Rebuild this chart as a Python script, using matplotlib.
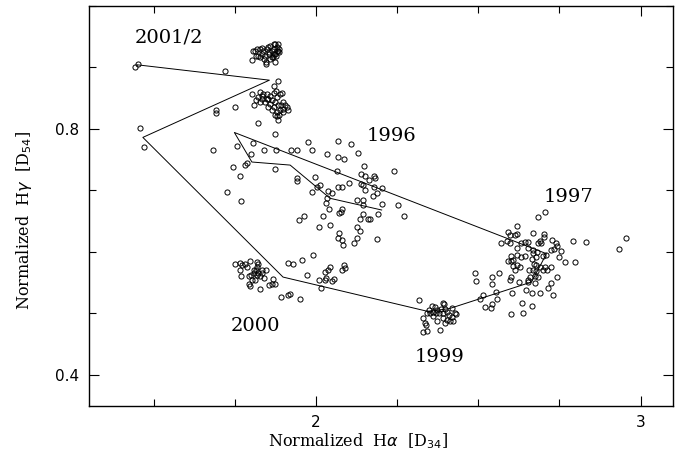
import matplotlib
matplotlib.use("Agg")
import matplotlib.pyplot as plt
from matplotlib.ticker import MultipleLocator

# 2001/2 season (upper + lower clumps and scattered points)
ha_2001 = [1.805, 1.802, 1.815, 1.818, 1.833, 1.846, 1.828, 1.843, 1.858, 1.874,
           1.884, 1.874, 1.879, 1.887, 1.864, 1.869, 1.854, 1.858, 1.867, 1.848,
           1.837, 1.812, 1.828, 1.822, 1.846, 1.869, 1.874, 1.884, 1.864, 1.880,
           1.871, 1.855, 1.877, 1.834, 1.886, 1.852, 1.840,
           1.884, 1.869, 1.877, 1.889, 1.871, 1.826, 1.837, 1.848, 1.858, 1.822,
           1.833, 1.848, 1.864, 1.828, 1.843, 1.858, 1.874, 1.869, 1.884, 1.899,
           1.910, 1.889, 1.899, 1.879, 1.874, 1.887, 1.899, 1.905, 1.853, 1.864,
           1.802, 1.807, 1.820, 1.879, 1.894, 1.879, 1.874, 1.815, 1.852, 1.892,
           1.914, 1.883, 1.834,
           1.443, 1.450, 1.720, 1.690, 1.690, 1.749, 1.458, 1.471]
hg_2001 = [0.927, 0.911, 0.919, 0.930, 0.932, 0.905, 0.916, 0.919, 0.935, 0.938,
           0.938, 0.908, 0.927, 0.930, 0.927, 0.922, 0.922, 0.913, 0.916, 0.930,
           0.927, 0.927, 0.930, 0.919, 0.908, 0.937, 0.922, 0.927, 0.916, 0.933,
           0.930, 0.925, 0.919, 0.922, 0.924, 0.933, 0.914,
           0.877, 0.870, 0.862, 0.857, 0.858, 0.859, 0.857, 0.857, 0.854, 0.851,
           0.849, 0.849, 0.846, 0.843, 0.843, 0.841, 0.843, 0.835, 0.838, 0.843,
           0.835, 0.830, 0.827, 0.827, 0.822, 0.822, 0.832, 0.838, 0.835, 0.830,
           0.857, 0.839, 0.810, 0.820, 0.858, 0.852, 0.791, 0.846, 0.848, 0.839,
           0.830, 0.815, 0.854,
           0.901, 0.906, 0.894, 0.831, 0.825, 0.835, 0.801, 0.771]

# 1996 season
ha_1996 = [1.682, 1.756, 1.804, 1.798, 1.838, 1.875, 1.922, 1.941, 1.975, 1.986,
           2.033, 2.067, 2.106, 2.067, 2.087, 2.130, 1.744, 1.782, 1.787, 1.766,
           1.874, 1.725, 1.768, 1.940, 1.942, 1.995, 1.986, 2.004, 2.038, 2.048,
           2.033, 2.031, 2.065, 2.102, 2.148, 2.137, 2.151, 2.164, 2.178, 2.182,
           2.137, 2.145, 2.067, 2.079, 2.152, 2.178, 2.202, 2.239, 2.187, 2.176,
           2.126, 2.146, 2.146, 2.204, 2.251, 2.041, 2.069, 2.076, 2.081, 2.022,
           1.963, 1.946, 2.146, 2.161, 2.135, 2.192, 2.272, 2.010, 2.043, 2.125,
           2.135, 2.069, 2.067, 2.079, 2.084, 2.126, 2.117, 2.187, 2.166, 2.012]
hg_1996 = [0.766, 0.772, 0.777, 0.759, 0.766, 0.766, 0.766, 0.766, 0.778, 0.765,
           0.759, 0.780, 0.775, 0.754, 0.751, 0.760, 0.738, 0.741, 0.744, 0.723,
           0.735, 0.698, 0.683, 0.720, 0.715, 0.721, 0.698, 0.706, 0.699, 0.695,
           0.687, 0.679, 0.732, 0.712, 0.739, 0.727, 0.724, 0.717, 0.724, 0.720,
           0.710, 0.708, 0.706, 0.706, 0.700, 0.706, 0.704, 0.732, 0.695, 0.690,
           0.685, 0.685, 0.676, 0.677, 0.676, 0.669, 0.663, 0.665, 0.670, 0.659,
           0.658, 0.651, 0.661, 0.654, 0.654, 0.661, 0.659, 0.640, 0.643, 0.641,
           0.634, 0.630, 0.623, 0.620, 0.611, 0.622, 0.614, 0.621, 0.653, 0.708]

# 2000 season
ha_2000 = [1.751, 1.766, 1.771, 1.782, 1.795, 1.819, 1.822, 1.764, 1.787, 1.807,
           1.818, 1.833, 1.845, 1.770, 1.792, 1.799, 1.807, 1.819, 1.828, 1.838,
           1.812, 1.792, 1.795, 1.828, 1.856, 1.864, 1.874, 1.866, 1.822, 1.833,
           1.802, 1.815,
           1.912, 1.930, 1.956, 1.990, 1.973, 1.893, 1.912, 1.918, 1.951, 2.010,
           2.026, 2.031, 2.048, 2.056, 2.016, 2.028, 2.038, 2.043, 2.079, 2.089,
           2.087]
hg_2000 = [0.581, 0.582, 0.578, 0.581, 0.585, 0.584, 0.580, 0.571, 0.575, 0.571,
           0.575, 0.571, 0.571, 0.561, 0.560, 0.562, 0.565, 0.562, 0.560, 0.558,
           0.555, 0.548, 0.544, 0.539, 0.546, 0.548, 0.548, 0.556, 0.565, 0.566,
           0.554, 0.570,
           0.582, 0.581, 0.587, 0.595, 0.562, 0.527, 0.530, 0.531, 0.524, 0.555,
           0.555, 0.557, 0.553, 0.556, 0.541, 0.568, 0.570, 0.576, 0.571, 0.573,
           0.578]

# 1999 season
ha_1999 = [2.318, 2.392, 2.394, 2.356, 2.366, 2.349, 2.361, 2.371, 2.384, 2.397,
           2.402, 2.418, 2.341, 2.351, 2.369, 2.379, 2.390, 2.410, 2.428, 2.330,
           2.335, 2.338, 2.328, 2.342, 2.382, 2.371, 2.402, 2.412, 2.422, 2.397,
           2.392, 2.420, 2.361, 2.431]
hg_1999 = [0.521, 0.517, 0.515, 0.512, 0.511, 0.506, 0.503, 0.506, 0.507, 0.507,
           0.503, 0.508, 0.500, 0.500, 0.501, 0.500, 0.500, 0.497, 0.500, 0.492,
           0.485, 0.481, 0.469, 0.472, 0.473, 0.488, 0.490, 0.487, 0.488, 0.485,
           0.493, 0.494, 0.495, 0.499]

# 1997 season
ha_1997 = [2.684, 2.705, 2.618, 2.592, 2.597, 2.612, 2.619, 2.667, 2.702, 2.702,
           2.571, 2.589, 2.597, 2.630, 2.643, 2.653, 2.684, 2.694, 2.689, 2.728,
           2.738, 2.741, 2.732, 2.725, 2.793, 2.833, 2.618, 2.653, 2.669, 2.681,
           2.667, 2.754, 2.749, 2.766, 2.797, 2.602, 2.619, 2.630, 2.643, 2.592,
           2.602, 2.607, 2.664, 2.679, 2.699, 2.710, 2.618, 2.612, 2.607, 2.628,
           2.671, 2.679, 2.689, 2.698, 2.705, 2.712, 2.725, 2.656, 2.668, 2.679,
           2.489, 2.492, 2.541, 2.564, 2.542, 2.602, 2.597, 2.653, 2.658, 2.674,
           2.684, 2.626, 2.653, 2.674, 2.741, 2.725, 2.715, 2.730, 2.648, 2.664,
           2.689, 2.605, 2.553, 2.558, 2.513, 2.505, 2.541, 2.538, 2.520, 2.633,
           2.664, 2.638, 2.602, 2.954, 2.933]
hg_1997 = [0.657, 0.664, 0.642, 0.632, 0.627, 0.628, 0.629, 0.630, 0.629, 0.624,
           0.614, 0.617, 0.614, 0.615, 0.616, 0.616, 0.615, 0.615, 0.618, 0.619,
           0.614, 0.609, 0.604, 0.603, 0.617, 0.616, 0.606, 0.606, 0.603, 0.600,
           0.598, 0.601, 0.592, 0.584, 0.584, 0.593, 0.595, 0.592, 0.593, 0.585,
           0.585, 0.587, 0.589, 0.591, 0.593, 0.595, 0.578, 0.571, 0.577, 0.575,
           0.581, 0.578, 0.575, 0.571, 0.575, 0.571, 0.576, 0.570, 0.571, 0.569,
           0.565, 0.552, 0.559, 0.566, 0.547, 0.559, 0.554, 0.555, 0.559, 0.561,
           0.559, 0.551, 0.551, 0.549, 0.559, 0.550, 0.541, 0.530, 0.538, 0.533,
           0.533, 0.533, 0.534, 0.524, 0.530, 0.524, 0.515, 0.508, 0.510, 0.517,
           0.512, 0.501, 0.499, 0.623, 0.604]

# track of the seasonal means
path_ha = [2.202, 2.043, 1.920, 1.802, 1.748, 2.710, 2.664, 2.412, 2.346, 1.898,
           1.466, 1.856, 1.448]
path_hg = [0.668, 0.687, 0.741, 0.746, 0.794, 0.597, 0.551, 0.508, 0.503, 0.559,
           0.786, 0.879, 0.904]

years = ["2001/2", "1996", "1997", "1999", "2000"]
year_x = [1.545, 2.231, 2.778, 2.380, 1.812]
year_y = [0.948, 0.788, 0.689, 0.429, 0.480]

fig = plt.figure(figsize=(6.91, 4.61), dpi=100)
ax = fig.add_axes([0.1288, 0.12, 0.8452, 0.8676])

ax.plot(path_ha, path_hg, color="k", lw=0.7)
for xs, ys in [(ha_2001, hg_2001), (ha_1996, hg_1996), (ha_2000, hg_2000),
               (ha_1999, hg_1999), (ha_1997, hg_1997)]:
    ax.plot(xs, ys, "o", ms=3.7, mfc="none", mec="k", mew=0.7, ls="none")

for t, x, y in zip(years, year_x, year_y):
    ax.text(x, y, t, ha="center", va="center", fontsize=14, family="DejaVu Serif")

ax.set_xlim(1.3, 3.1)
ax.set_ylim(0.35, 1.0)
ax.xaxis.set_major_locator(MultipleLocator(1))
ax.xaxis.set_minor_locator(MultipleLocator(0.25))
ax.yaxis.set_major_locator(MultipleLocator(0.4))
ax.yaxis.set_minor_locator(MultipleLocator(0.1))
ax.tick_params(which="both", direction="in", top=True, right=True, width=0.8)
ax.tick_params(which="major", length=7, labelsize=11, pad=7)
ax.tick_params(which="minor", length=5)
for s in ax.spines.values():
    s.set_linewidth(1.0)

ax.set_xlabel(r"Normalized  H$\alpha$  [D$_{34}$]", fontsize=11.5, family="DejaVu Serif")
ax.set_ylabel(r"Normalized  H$\gamma$  [D$_{54}$]", fontsize=11.5, family="DejaVu Serif")
ax.xaxis.set_label_coords(0.46, -0.065)
ax.yaxis.set_label_coords(-0.095, 0.464)

fig.savefig("out.png", dpi=100)
